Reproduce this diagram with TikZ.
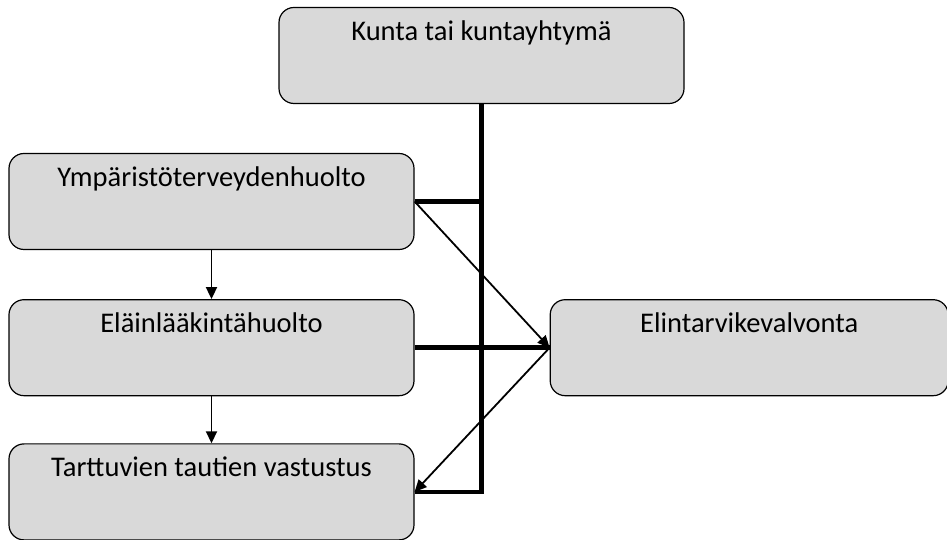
\documentclass[tikz,border=0pt]{standalone}
\usepackage{fontspec}
\setmainfont{Carlito}
\usepackage{tikz}
\usetikzlibrary{arrows.meta,positioning}
\definecolor{cBox}{HTML}{D9D9D9}
\tikzset{
  unit/.style={rectangle,rounded corners=15pt,draw=black,line width=1.2pt,fill=cBox,
    minimum width=405pt,inner sep=0pt,text height=33pt,text depth=63pt,
    font=\fontsize{28.5}{32}\selectfont},
  main/.style={line width=4.5pt},
  arr/.style={-{Triangle[length=12pt,width=11pt]},line width=1.8pt},
}

\begin{document}
\begin{tikzpicture}[x=1pt,y=1pt,node distance=47pt]
  \useasboundingbox (0,0) rectangle (947,540);
  % ---------------- organisation boxes
  \node[unit] (kunta) at (481.5,484.5) {Kunta tai kuntayhtymä};
  \node[unit] (ymp) at (211.5,338.5) {Ympäristöterveydenhuolto};
  \node[unit,below=49pt of ymp] (elain) {Eläinlääkintähuolto};
  \node[unit,below=of elain] (tart) {Tarttuvien tautien vastustus};
  \node[unit,minimum width=398pt,right=135pt of elain] (elin) {Elintarvikevalvonta};
  % ---------------- thick lines from the municipality
  \coordinate (kb) at (kunta.south |- tart.east);
  \draw[main] (kunta.south) -- (kb) -- (tart.east);
  \draw[main] (ymp.east) -- (kunta.south |- ymp.east);
  \draw[main] (elain.east) -- (elin.west);
  % ---------------- thin arrows
  \draw[arr] (ymp.east) -- (elin.west);
  \draw[arr] (elin.west) -- (tart.east);
  \draw[arr] (ymp.south) -- (elain.north);
  \draw[arr] (elain.south) -- (tart.north);
\end{tikzpicture}
\end{document}
